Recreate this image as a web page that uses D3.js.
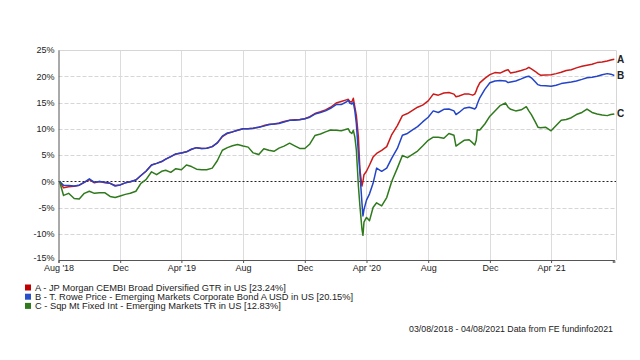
<!DOCTYPE html>
<html>
<head>
<meta charset="utf-8">
<script src="https://cdn.jsdelivr.net/npm/d3@7"></script>
<style>
  html, body { margin: 0; padding: 0; background: #fff; }
  svg { display: block; font-family: "Liberation Sans", Arial, sans-serif; }
</style>
</head>
<body>
<svg id="chart" width="640" height="360"></svg>
<script>
const dates = [
"2018-08-03","2018-08-11","2018-08-21","2018-09-01","2018-09-11","2018-09-21","2018-10-01","2018-10-11","2018-10-21","2018-11-01","2018-11-11","2018-11-21","2018-12-01","2018-12-11","2018-12-21","2019-01-01","2019-01-11","2019-01-21","2019-02-01","2019-02-11","2019-02-21","2019-03-01","2019-03-11","2019-03-21","2019-04-01","2019-04-11","2019-04-21","2019-05-01",
"2019-05-11","2019-05-21","2019-06-01","2019-06-11","2019-06-21","2019-07-01","2019-07-11","2019-07-21","2019-08-01","2019-08-11","2019-08-21","2019-09-01","2019-09-11","2019-09-21","2019-10-01","2019-10-11","2019-10-21","2019-11-01","2019-11-11","2019-11-21","2019-12-01","2019-12-11","2019-12-21","2020-01-01","2020-01-11","2020-01-21","2020-02-01",
"2020-02-11","2020-02-21","2020-02-25","2020-02-28","2020-03-03","2020-03-06","2020-03-09","2020-03-12","2020-03-16","2020-03-19","2020-03-23","2020-03-25","2020-03-27","2020-04-01","2020-04-07","2020-04-14","2020-04-21","2020-05-01","2020-05-11","2020-05-21","2020-06-01","2020-06-11","2020-06-21","2020-07-01","2020-07-11","2020-07-21","2020-08-01","2020-08-11","2020-08-21","2020-09-01","2020-09-11","2020-09-21","2020-09-25","2020-10-01","2020-10-11","2020-10-21","2020-10-28","2020-11-01",
"2020-11-04","2020-11-06","2020-11-11","2020-11-21","2020-12-01","2020-12-11","2020-12-21","2021-01-01","2021-01-06","2021-01-11","2021-01-21","2021-02-01","2021-02-11","2021-02-16","2021-02-21","2021-03-01","2021-03-06","2021-03-11","2021-03-21","2021-04-01","2021-04-11","2021-04-21","2021-05-01","2021-05-11","2021-05-21","2021-06-01","2021-06-11","2021-06-21","2021-07-01","2021-07-11","2021-07-21","2021-07-28","2021-08-04"];

const seriesA = [
0,-1.25,-1.06,-0.94,-0.75,-0.2,0.3,-0.3,-0.06,-0.3,-0.4,-0.8,-0.7,-0.3,-0.1,0.25,1.1,1.9,3.1,3.4,3.75,4.2,4.7,5.2,5.4,5.6,6.1,6.4,
6.25,6.3,6.6,7.3,8.5,9.1,9.4,9.7,10.0,10.0,10.1,10.3,10.6,10.8,10.9,11.1,11.4,11.6,11.7,11.75,11.9,12.3,12.9,13.25,13.6,14.1,14.9,
15.2,15.5,15.6,15.2,15.1,15.8,14.1,12.5,8.4,2.2,-0.9,0,1.25,1.9,3.1,4.6,5.3,5.9,6.6,8.9,10.6,12.5,12.9,13.5,14.1,14.5,15.3,16.6,16.4,16.8,16.9,16.6,16.1,16.25,16.6,16.6,16.4,16.6,
17.2,17.8,18.75,19.6,20.3,20.7,20.6,21.1,21.25,20.6,20.8,21.1,21.4,21.7,21.4,20.9,20.5,20.2,20.25,20.3,20.5,20.75,21.1,21.25,21.6,21.9,22.1,22.3,22.6,22.7,22.9,23.1,23.24];

const seriesB = [
0,-0.75,-0.8,-0.9,-0.75,-0.2,0.45,-0.2,-0.06,-0.2,-0.4,-0.9,-0.7,-0.3,-0.1,0.25,1.1,1.9,3.1,3.4,3.75,4.2,4.7,5.2,5.4,5.6,6.1,6.4,
6.25,6.3,6.6,7.3,8.6,9.2,9.4,9.7,10.0,10.0,10.1,10.3,10.5,10.8,10.9,11.0,11.3,11.6,11.6,11.7,11.9,12.2,12.8,13.1,13.4,13.9,14.6,
14.6,15.1,15.4,14.9,14.7,15.0,13.4,10.9,5.3,1.6,-4.1,-6.6,-5.4,-3.6,-2.4,-0.4,2.5,1.9,2.5,4.4,6.25,8.75,9.1,9.8,10.4,11.3,12.2,13.4,13.1,13.7,13.75,13.4,12.7,13.1,13.9,14.1,13.9,13.75,
14.1,14.7,15.9,17.5,18.75,19.1,19.2,19.1,18.8,18.9,19.1,19.5,19.9,20.0,19.7,18.9,18.4,18.25,18.2,18.1,18.3,18.6,18.75,18.9,19.1,19.4,19.7,19.8,20.0,20.3,20.5,20.4,20.15];

const seriesC = [
0,-2.7,-2.3,-3.3,-3.4,-2.3,-1.9,-2.3,-2.2,-2.2,-2.9,-3.1,-2.8,-2.5,-2.3,-1.9,-0.4,0.3,1.8,1.25,1.9,2.1,1.7,2.4,2.2,3.1,2.8,2.3,
2.2,2.2,2.5,3.9,5.9,6.4,6.75,7.0,6.7,6.5,5.4,5.1,6.2,5.9,5.7,6.3,6.7,7.25,6.75,6.25,6.25,7.1,8.7,9.0,9.4,9.75,9.7,
9.6,9.9,10.0,9.4,9.1,9.7,8.4,5.9,-0.9,-4.7,-9.1,-10.3,-7.8,-6.9,-7.5,-5.0,-4.1,-4.7,-3.1,0.0,2.5,4.9,4.5,5.1,5.75,6.7,7.8,8.4,8.4,8.2,9.1,8.75,6.7,7.1,7.8,7.9,7.3,6.9,
7.8,9.8,9.75,10.9,12.4,13.4,14.4,14.9,14.1,13.7,13.4,13.6,14.2,13.4,12.7,11.25,10.3,10.2,10.3,9.6,10.6,11.6,11.75,12.1,12.7,13.1,13.75,13.1,12.8,12.6,12.5,12.7,12.83];

const seriesKeys = ["A", "B", "C"];
const seriesNames = [
  "A - JP Morgan CEMBI Broad Diversified GTR in US [23.24%]",
  "B - T. Rowe Price - Emerging Markets Corporate Bond A USD in US [20.15%]",
  "C - Sqp Mt Fixed Int - Emerging Markets TR in US [12.83%]"
];
const seriesColors = ["#cc1a1a", "#2444c8", "#2f7a1c"];
const legendColors = ["#c00000", "#2850c8", "#2f7a1c"];

const yTicks = [-15, -10, -5, 0, 5, 10, 15, 20, 25];
const xTickDates = ["2018-08-01","2018-12-01","2019-04-01","2019-08-01","2019-12-01","2020-04-01","2020-08-01","2020-12-01","2021-04-01","2021-08-01"];
const xTickLabels = ["Aug '18","Dec","Apr '19","Aug","Dec","Apr '20","Aug","Dec","Apr '21",""];
const footnote = "03/08/2018 - 04/08/2021 Data from FE fundinfo2021";

(function draw() {
  const parse = d3.utcParse("%Y-%m-%d");
  const allSeries = [seriesA, seriesB, seriesC];
  const rows = dates.map((d, i) => ({ date: parse(d), A: seriesA[i], B: seriesB[i], C: seriesC[i] }));

  const svg = d3.select("#chart");
  const pLeft = 58.5, pRight = 614.3, pTop = 50, pBottom = 260;

  const x = d3.scaleUtc()
    .domain([parse("2018-08-01"), parse("2021-08-04")])
    .range([pLeft, pRight]);
  const y = d3.scaleLinear().domain([-15, 25]).range([pBottom, pTop]);

  const grid = svg.append("g");
  grid.selectAll("line.h").data(yTicks.filter(v => v !== 0 && v !== -15)).enter()
    .append("line")
    .attr("x1", pLeft).attr("x2", 616)
    .attr("y1", d => Math.round(y(d)) + 0.5).attr("y2", d => Math.round(y(d)) + 0.5)
    .attr("stroke", "#d6d6d6").attr("stroke-width", 1)
    .attr("stroke-dasharray", "4,2");
  grid.selectAll("line.v").data(xTickDates.slice(1, -1)).enter()
    .append("line")
    .attr("x1", d => Math.round(x(parse(d))) + 0.5).attr("x2", d => Math.round(x(parse(d))) + 0.5)
    .attr("y1", pTop).attr("y2", pBottom)
    .attr("stroke", "#dcdcdc").attr("stroke-width", 1);
  grid.append("path")
    .attr("d", `M${pLeft},${pTop + 0.5}H616.5V${pBottom}`)
    .attr("fill", "none").attr("stroke", "#d6d6d6");

  svg.append("line")
    .attr("x1", pLeft).attr("x2", 616)
    .attr("y1", Math.round(y(0)) + 0.5).attr("y2", Math.round(y(0)) + 0.5)
    .attr("stroke", "#222").attr("stroke-width", 1)
    .attr("stroke-dasharray", "2,2");

  const line = key => d3.line().x(d => x(d.date)).y(d => y(d[key]));
  seriesKeys.forEach((k, i) => {
    svg.append("path")
      .datum(rows)
      .attr("fill", "none")
      .attr("stroke", seriesColors[i])
      .attr("stroke-width", 1.5)
      .attr("stroke-linejoin", "round")
      .attr("d", line(k));
  });

  seriesKeys.forEach((k, i) => {
    const last = allSeries[i][allSeries[i].length - 1];
    svg.append("text")
      .attr("x", 617).attr("y", y(last))
      .attr("dy", "0.35em")
      .attr("font-size", 10).attr("font-weight", "bold")
      .attr("fill", "#222")
      .text(k);
  });

  const yAxis = svg.append("g")
    .attr("transform", `translate(${pLeft},0)`)
    .call(d3.axisLeft(y).tickValues(yTicks).tickFormat(d => d + "%").tickSize(0).tickPadding(4));
  yAxis.select(".domain").attr("stroke", "#555");
  yAxis.selectAll("text").attr("font-size", 9).attr("fill", "#222").attr("font-family", "Liberation Sans, Arial, sans-serif");
  yAxis.selectAll(".tick").filter(d => d === -15).select("text").attr("dy", "0.1em");

  const xAxis = svg.append("g")
    .attr("transform", `translate(0,${pBottom})`)
    .call(d3.axisBottom(x).tickValues(xTickDates.map(parse))
      .tickFormat((d, i) => xTickLabels[i]).tickSizeOuter(0).tickSize(3).tickPadding(2));
  xAxis.select(".domain").attr("stroke", "#555");
  xAxis.selectAll(".tick line").attr("stroke", "#555");
  xAxis.selectAll("text").attr("font-size", 9).attr("fill", "#222").attr("font-family", "Liberation Sans, Arial, sans-serif");

  const legend = svg.append("g");
  seriesNames.forEach((name, i) => {
    const ly = 288 + i * 9.2;
    legend.append("rect")
      .attr("x", 25).attr("y", ly - 3.5).attr("width", 6).attr("height", 6)
      .attr("fill", legendColors[i]);
    legend.append("text")
      .attr("x", 35).attr("y", ly).attr("dy", "0.32em")
      .attr("font-size", 9.3).attr("fill", "#222")
      .text(name);
  });

  svg.append("text")
    .attr("x", 613).attr("y", 329).attr("dy", "0.32em")
    .attr("text-anchor", "end")
    .attr("font-size", 8.8).attr("fill", "#222")
    .text(footnote);
})();
</script>
</body>
</html>
